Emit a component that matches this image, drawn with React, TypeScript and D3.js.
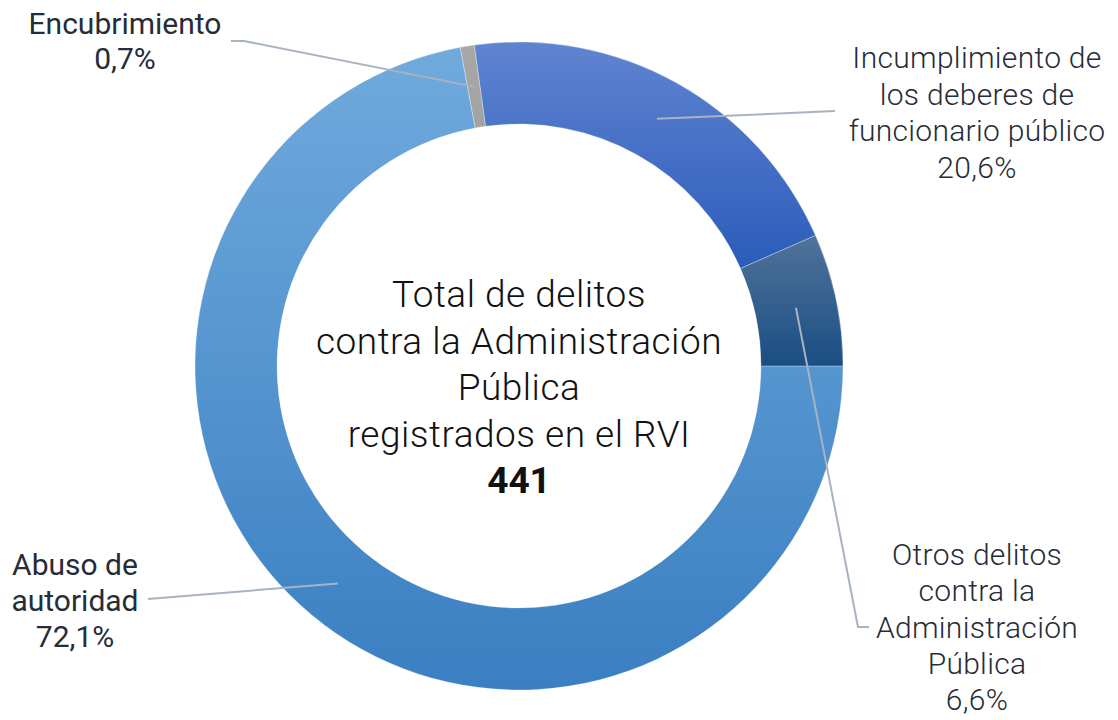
import React from "react";
import * as d3 from "d3";

const categories = [
  "Abuso de autoridad",
  "Encubrimiento",
  "Incumplimiento de los deberes de funcionario público",
  "Otros delitos contra la Administración Pública",
];
const percents = [72.1, 0.7, 20.6, 6.6];
const percentLabels = ["72,1%", "0,7%", "20,6%", "6,6%"];
const labelLines = [
  ["Abuso de", "autoridad"],
  ["Encubrimiento"],
  ["Incumplimiento de", "los deberes de", "funcionario público"],
  ["Otros delitos", "contra la", "Administración", "Pública"],
];
const centerLines = [
  "Total de delitos",
  "contra la Administración",
  "Pública",
  "registrados en el RVI",
];
const totalValue = "441";

const W = 1118;
const H = 720;
const CX = 519;
const CY = 366;
const R_OUT = 324;
const R_IN = 242;

const gradients = [
  { id: "g0", top: "#70aadd", bottom: "#3a7fc2" },
  { id: "g1", top: "#a7a7a7", bottom: "#a3a3a3" },
  { id: "g2", top: "#5f84d1", bottom: "#2b5cba" },
  { id: "g3", top: "#50739a", bottom: "#1a4e84" },
];

// label layout: center x, first baseline, line height, leader-line points after the arc centroid
const labelLayout = [
  { x: 75, y: 575, lh: 36, leader: [[148, 599]] },
  { x: 125, y: 34, lh: 35, leader: [[244, 41], [231, 41]] },
  { x: 977, y: 68, lh: 36.5, leader: [[835, 111]] },
  { x: 977, y: 565, lh: 36.3, leader: [[858, 627], [869, 627]] },
];

export default function App() {
  const pie = d3
    .pie<number>()
    .sort(null)
    .value((d) => d)
    .startAngle(Math.PI / 2)
    .endAngle(Math.PI / 2 + 2 * Math.PI);
  const arcs = pie(percents);
  const arc = d3.arc<d3.PieArcDatum<number>>().innerRadius(R_IN).outerRadius(R_OUT);
  const line = d3.line();

  const font = "Roboto, 'Open Sans', sans-serif";

  return (
    <svg
      width={W}
      height={H}
      style={{ position: "absolute", left: 0, top: 0, background: "#fff" }}
    >
      <defs>
        {gradients.map((g) => (
          <linearGradient key={g.id} id={g.id} x1="0" y1="0" x2="0" y2="1">
            <stop offset="0" stopColor={g.top} />
            <stop offset="1" stopColor={g.bottom} />
          </linearGradient>
        ))}
      </defs>
      <g transform={`translate(${CX},${CY})`}>
        {arcs.map((a, i) => (
          <path
            key={categories[i]}
            d={arc(a) || ""}
            fill={`url(#${gradients[i].id})`}
            stroke="#ffffff"
            strokeOpacity={0.5}
            strokeWidth={0.6}
          />
        ))}
      </g>
      {arcs.map((a, i) => {
        const c = arc.centroid(a);
        const start: [number, number] = [c[0] + CX, c[1] + CY];
        const pts = [start, ...(labelLayout[i].leader as [number, number][])];
        return (
          <path
            key={"l" + i}
            d={line(pts) || ""}
            fill="none"
            stroke="#a8b3c2"
            strokeWidth={2}
          />
        );
      })}
      {labelLayout.map((l, i) => {
        const lines = [...labelLines[i], percentLabels[i]];
        return (
          <text
            key={"t" + i}
            textAnchor="middle"
            fontFamily={font}
            fontSize={30}
            fontWeight={i >= 2 ? 300 : 400}
            letterSpacing={i >= 2 ? 0.3 : 0}
            fill="#262c38"
          >
            {lines.map((s, j) => (
              <tspan key={j} x={l.x} y={l.y + j * l.lh}>
                {s}
              </tspan>
            ))}
          </text>
        );
      })}
      <text
        textAnchor="middle"
        fontFamily={font}
        fontSize={37}
        fontWeight={300}
        letterSpacing={0.5}
        fill="#111"
      >
        {centerLines.map((s, j) => (
          <tspan key={j} x={CX} y={307 + j * 46.5}>
            {s}
          </tspan>
        ))}
        <tspan x={CX} y={307 + 4 * 46.5} fontWeight="bold" letterSpacing={0}>
          {totalValue}
        </tspan>
      </text>
    </svg>
  );
}
